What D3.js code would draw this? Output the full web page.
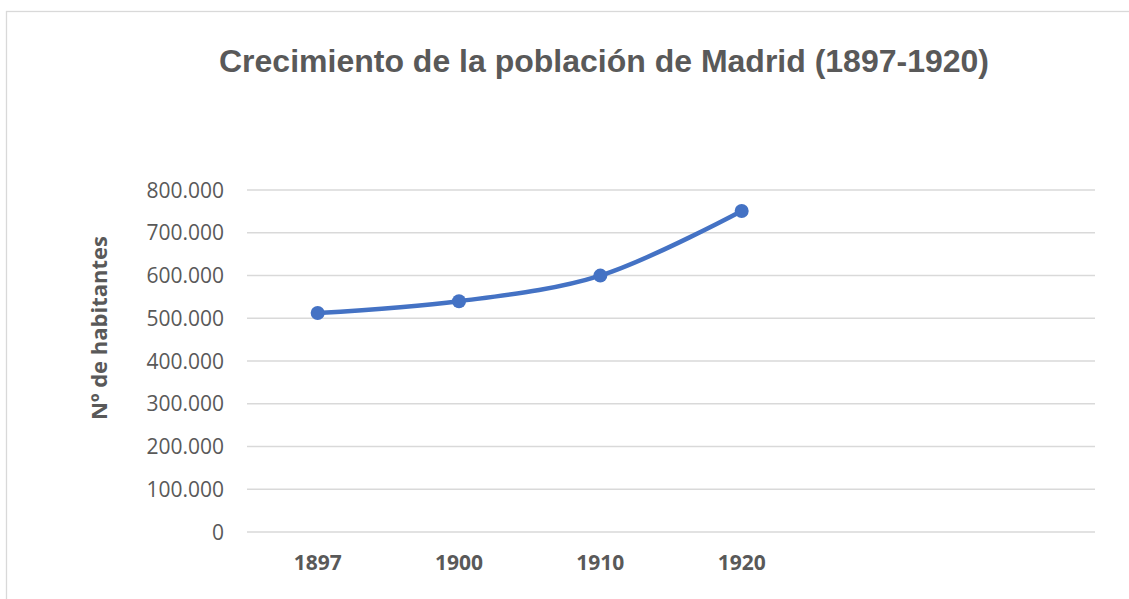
<!DOCTYPE html>
<html>
<head>
<meta charset="utf-8">
<script src="https://cdn.jsdelivr.net/npm/d3@7"></script>
<style>
  body { margin: 0; background: #fff; }
  svg { display: block; }
</style>
</head>
<body>
<div id="chart"></div>
<script>
// data
const years = ["1897", "1900", "1910", "1920", "", " "];
const population = [512150, 539835, 599807, 750896];
const yTicks = [0, 100000, 200000, 300000, 400000, 500000, 600000, 700000, 800000];

const titleText = "Crecimiento de la población de Madrid (1897-1920)";
const yTitle = "Nº de habitantes";

// size and plot area
const W = 1129, H = 599;
const plot = { left: 247, right: 1095, top: 190, bottom: 532 };

const svg = d3.select("#chart")
  .append("svg")
  .attr("width", W)
  .attr("height", H);

// chart frame (runs off the right / bottom edge like the screenshot)
svg.append("rect")
  .attr("x", 6.5).attr("y", 11.5)
  .attr("width", 1300).attr("height", 800)
  .attr("fill", "#fff")
  .attr("stroke", "#d9d9d9")
  .attr("stroke-width", 1.3);

const x = d3.scaleBand()
  .domain(years)
  .range([plot.left, plot.right]);

const y = d3.scaleLinear()
  .domain([0, 800000])
  .range([plot.bottom, plot.top]);

const fmt = d => d === 0 ? "0" : d3.format(",")(d).replace(/,/g, ".");

// gridlines
svg.append("g")
  .selectAll("line")
  .data(yTicks)
  .join("line")
  .attr("x1", plot.left).attr("x2", plot.right)
  .attr("y1", d => y(d)).attr("y2", d => y(d))
  .attr("stroke", "#d9d9d9")
  .attr("stroke-width", 1.3);

// y tick labels
svg.append("g")
  .selectAll("text")
  .data(yTicks)
  .join("text")
  .attr("x", 224)
  .attr("y", d => y(d))
  .attr("dy", "0.36em")
  .attr("text-anchor", "end")
  .style("font-family", "'Open Sans', sans-serif")
  .style("font-size", "21px")
  .style("fill", "#595959")
  .text(fmt);

// x labels
svg.append("g")
  .selectAll("text")
  .data(years)
  .join("text")
  .attr("x", d => x(d) + x.bandwidth() / 2)
  .attr("y", 570)
  .attr("text-anchor", "middle")
  .style("font-family", "'Open Sans', sans-serif")
  .style("font-weight", "bold")
  .style("font-size", "21px")
  .style("fill", "#595959")
  .text(d => d.trim());

// title
svg.append("text")
  .attr("x", 604)
  .attr("y", 72)
  .attr("text-anchor", "middle")
  .style("font-family", "'Liberation Sans', Arial, sans-serif")
  .style("font-weight", "bold")
  .style("font-size", "32px")
  .style("fill", "#595959")
  .text(titleText);

// y axis title
svg.append("text")
  .attr("transform", "translate(107,328) rotate(-90)")
  .attr("text-anchor", "middle")
  .style("font-family", "'Open Sans', sans-serif")
  .style("font-weight", "bold")
  .style("font-size", "22px")
  .style("fill", "#595959")
  .text(yTitle);

// the smoothed line
const pts = population.map((v, i) => ({ year: years[i], value: v }));

const line = d3.line()
  .x(d => x(d.year) + x.bandwidth() / 2)
  .y(d => y(d.value))
  .curve(d3.curveCatmullRom.alpha(0.5));

svg.append("path")
  .datum(pts)
  .attr("fill", "none")
  .attr("stroke", "#4472c4")
  .attr("stroke-width", 4.5)
  .attr("stroke-linecap", "round")
  .attr("d", line);

svg.append("g")
  .selectAll("circle")
  .data(pts)
  .join("circle")
  .attr("cx", d => x(d.year) + x.bandwidth() / 2)
  .attr("cy", d => y(d.value))
  .attr("r", 7)
  .attr("fill", "#4472c4");
</script>
</body>
</html>
